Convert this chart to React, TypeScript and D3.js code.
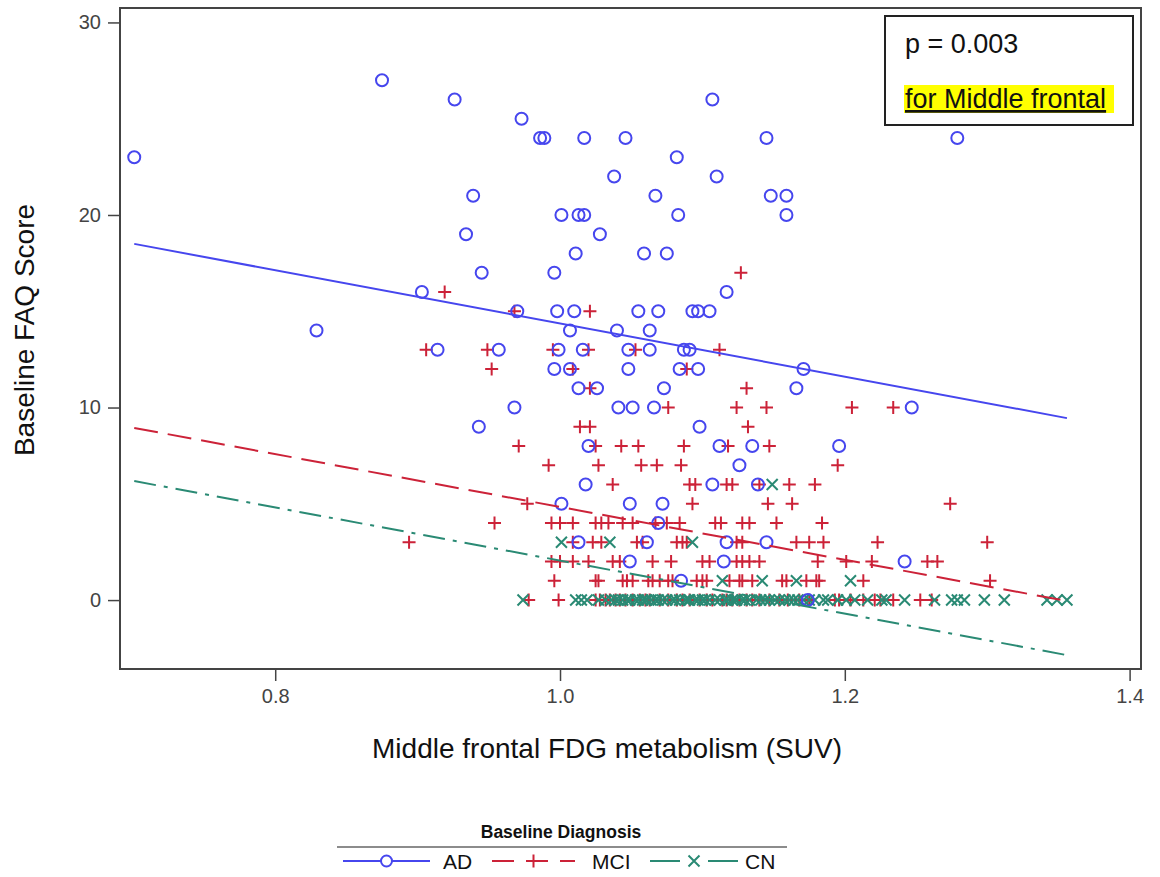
import React, { useEffect, useRef } from "react";
import * as d3 from "d3";

// Baseline FAQ score vs middle frontal FDG (SUV), by baseline diagnosis
const adX = [0.701, 0.829, 0.875, 0.903, 0.914, 0.926, 0.934, 0.939, 0.943, 0.945, 0.957, 0.968, 0.970, 0.973, 0.986, 0.989, 0.996, 0.996, 0.998, 0.999, 1.001, 1.001, 1.007, 1.007, 1.010, 1.011, 1.013, 1.013, 1.013, 1.016, 1.017, 1.017, 1.018, 1.020, 1.026, 1.028, 1.038, 1.040, 1.041, 1.046, 1.048, 1.048, 1.049, 1.049, 1.051, 1.055, 1.059, 1.061, 1.063, 1.063, 1.066, 1.067, 1.069, 1.069, 1.072, 1.073, 1.075, 1.082, 1.083, 1.084, 1.085, 1.087, 1.091, 1.093, 1.097, 1.097, 1.098, 1.105, 1.107, 1.107, 1.110, 1.112, 1.115, 1.117, 1.117, 1.126, 1.135, 1.139, 1.145, 1.145, 1.148, 1.159, 1.159, 1.166, 1.171, 1.174, 1.196, 1.242, 1.247, 1.279];
const adY = [23, 14, 27, 16, 13, 26, 19, 21, 9, 17, 13, 10, 15, 25, 24, 24, 17, 12, 15, 13, 20, 5, 14, 12, 15, 18, 20, 11, 3, 13, 20, 24, 6, 8, 11, 19, 22, 14, 10, 24, 13, 12, 5, 2, 10, 15, 18, 3, 14, 13, 10, 21, 15, 4, 5, 11, 18, 23, 20, 12, 1, 13, 13, 15, 15, 12, 9, 15, 26, 6, 22, 8, 2, 16, 3, 7, 8, 6, 24, 3, 21, 21, 20, 11, 12, 0, 8, 2, 10, 24];

const mciX = [1.127, 0.919, 0.968, 1.021, 0.906, 0.949, 0.995, 1.020, 1.053, 1.112, 0.952, 1.009, 1.089, 1.021, 1.131, 1.076, 1.124, 1.145, 1.205, 1.234, 1.014, 1.021, 1.132, 0.971, 1.025, 1.043, 1.055, 1.087, 1.118, 1.147, 0.992, 1.027, 1.057, 1.068, 1.085, 1.195, 1.037, 1.091, 1.095, 1.117, 1.121, 1.140, 1.161, 1.179,
  0.977, 1.093, 1.146, 1.163, 1.274,
  0.954, 0.994, 1.000, 1.009, 1.025, 1.029, 1.034, 1.044, 1.051, 1.067, 1.075, 1.084, 1.109, 1.113, 1.128, 1.133, 1.152, 1.184,
  0.894, 1.009, 1.023, 1.029, 1.054, 1.058, 1.082, 1.086, 1.089, 1.124, 1.128, 1.166, 1.175, 1.185, 1.223, 1.300,
  0.994, 1.000, 1.009, 1.020, 1.037, 1.042, 1.065, 1.078, 1.100, 1.105, 1.124, 1.128, 1.133, 1.140, 1.181, 1.201, 1.219, 1.258, 1.265,
  0.996, 1.025, 1.027, 1.044, 1.047, 1.051, 1.062, 1.065, 1.070, 1.076, 1.079, 1.096, 1.100, 1.103, 1.119, 1.126, 1.128, 1.135, 1.156, 1.159, 1.173, 1.180, 1.182, 1.213, 1.302,
  0.978, 0.999, 1.025, 1.028, 1.032, 1.035, 1.039, 1.042, 1.046, 1.051, 1.056, 1.060, 1.063, 1.070, 1.076, 1.082, 1.086, 1.091, 1.098, 1.103, 1.107, 1.114, 1.117, 1.121, 1.126, 1.131, 1.135, 1.140, 1.147, 1.154, 1.160, 1.168, 1.175, 1.193, 1.196, 1.204, 1.213, 1.221, 1.225, 1.234, 1.253, 1.261];
const mciY = [17, 16, 15, 15, 13, 13, 13, 13, 13, 13, 12, 12, 12, 11, 11, 10, 10, 10, 10, 10, 9, 9, 9, 8, 8, 8, 8, 8, 8, 8, 7, 7, 7, 7, 7, 7, 6, 6, 6, 6, 6, 6, 6, 6,
  5, 5, 5, 5, 5,
  4, 4, 4, 4, 4, 4, 4, 4, 4, 4, 4, 4, 4, 4, 4, 4, 4, 4,
  3, 3, 3, 3, 3, 3, 3, 3, 3, 3, 3, 3, 3, 3, 3, 3,
  2, 2, 2, 2, 2, 2, 2, 2, 2, 2, 2, 2, 2, 2, 2, 2, 2, 2, 2,
  1, 1, 1, 1, 1, 1, 1, 1, 1, 1, 1, 1, 1, 1, 1, 1, 1, 1, 1, 1, 1, 1, 1, 1, 1,
  0, 0, 0, 0, 0, 0, 0, 0, 0, 0, 0, 0, 0, 0, 0, 0, 0, 0, 0, 0, 0, 0, 0, 0, 0, 0, 0, 0, 0, 0, 0, 0, 0, 0, 0, 0, 0, 0, 0, 0, 0, 0];

const cnX = [1.149, 1.001, 1.035, 1.093, 1.114, 1.142, 1.166, 1.204,
  0.974, 1.011, 1.015, 1.019, 1.027, 1.032, 1.036, 1.039, 1.041, 1.044, 1.047, 1.049, 1.053, 1.055, 1.058, 1.060, 1.061, 1.064, 1.067, 1.069, 1.072, 1.075, 1.079, 1.081, 1.084, 1.088, 1.090, 1.091, 1.095, 1.097, 1.100, 1.102, 1.105, 1.109, 1.112, 1.116, 1.118, 1.121, 1.123, 1.124, 1.128, 1.130, 1.133, 1.138, 1.141, 1.144, 1.147, 1.151, 1.154, 1.158, 1.161, 1.164, 1.167, 1.171, 1.175, 1.179, 1.185, 1.188, 1.195, 1.201, 1.207, 1.216, 1.226, 1.229, 1.242, 1.263, 1.275, 1.279, 1.284, 1.298, 1.312, 1.342, 1.349, 1.356];
const cnY = [6, 3, 3, 3, 1, 1, 1, 1,
  0, 0, 0, 0, 0, 0, 0, 0, 0, 0, 0, 0, 0, 0, 0, 0, 0, 0, 0, 0, 0, 0, 0, 0, 0, 0, 0, 0, 0, 0, 0, 0, 0, 0, 0, 0, 0, 0, 0, 0, 0, 0, 0, 0, 0, 0, 0, 0, 0, 0, 0, 0, 0, 0, 0, 0, 0, 0, 0, 0, 0, 0, 0, 0, 0, 0, 0, 0, 0, 0, 0, 0, 0, 0];

// fitted lines (end points)
const adFit = [[0.701, 18.5], [1.356, 9.45]];
const mciFit = [[0.701, 8.94], [1.356, -0.05]];
const cnFit = [[0.701, 6.18], [1.356, -2.86]];

const xTicks = [0.8, 1.0, 1.2, 1.4];
const yTicks = [0, 10, 20, 30];
const groups = ["AD", "MCI", "CN"];

const FONT = "'Liberation Sans', Arial, sans-serif";
const colors = { AD: "#4646ee", MCI: "#cc2238", CN: "#2a8a74" };

const App = () => {
  const svgRef = useRef();

  useEffect(() => {
    const width = 1160, height = 877;
    const margin = { top: 8, right: 19, bottom: 208, left: 120 };

    const svg = d3.select(svgRef.current)
      .attr("width", width)
      .attr("height", height);
    svg.selectAll("*").remove();

    const x = d3.scaleLinear().domain([0.691, 1.408]).range([margin.left, width - margin.right]);
    const y = d3.scaleLinear().domain([-3.58, 30.75]).range([height - margin.bottom, margin.top]);

    const plot = svg.append("g");

    // markers
    const circle = (g, xs, ys, c) => g.selectAll(null).data(xs).enter().append("circle")
      .attr("cx", d => x(d)).attr("cy", (d, i) => y(ys[i])).attr("r", 6)
      .attr("fill", "none").attr("stroke", c).attr("stroke-width", 2);
    const shape = (g, xs, ys, c, p) => g.selectAll(null).data(xs).enter().append("path")
      .attr("transform", (d, i) => `translate(${x(d)},${y(ys[i])})`)
      .attr("d", p).attr("fill", "none").attr("stroke", c).attr("stroke-width", 2);

    shape(plot.append("g"), mciX, mciY, colors.MCI, "M-6.5,0H6.5M0,-6.5V6.5");
    shape(plot.append("g"), cnX, cnY, colors.CN, "M-5.5,-5.5L5.5,5.5M-5.5,5.5L5.5,-5.5");
    circle(plot.append("g"), adX, adY, colors.AD);

    // fit lines
    const line = d3.line().x(d => x(d[0])).y(d => y(d[1]));
    plot.append("path").attr("d", line(adFit)).attr("stroke", colors.AD).attr("stroke-width", 2).attr("fill", "none");
    plot.append("path").attr("d", line(mciFit)).attr("stroke", colors.MCI).attr("stroke-width", 2).attr("fill", "none")
      .attr("stroke-dasharray", "24,10");
    plot.append("path").attr("d", line(cnFit)).attr("stroke", colors.CN).attr("stroke-width", 2).attr("fill", "none")
      .attr("stroke-dasharray", "22,8,4,8");

    // frame + axes
    svg.append("rect")
      .attr("x", margin.left).attr("y", margin.top)
      .attr("width", width - margin.left - margin.right)
      .attr("height", height - margin.top - margin.bottom)
      .attr("fill", "none").attr("stroke", "#444").attr("stroke-width", 2);

    const xAxis = svg.append("g")
      .attr("transform", `translate(0, ${height - margin.bottom})`)
      .call(d3.axisBottom(x).tickValues(xTicks).tickFormat(d3.format(".1f")).tickSize(12).tickPadding(8));
    const yAxis = svg.append("g")
      .attr("transform", `translate(${margin.left}, 0)`)
      .call(d3.axisLeft(y).tickValues(yTicks).tickSize(12).tickPadding(7));
    [xAxis, yAxis].forEach(a => {
      a.select(".domain").remove();
      a.selectAll("line").attr("stroke", "#444").attr("stroke-width", 1.5);
      a.selectAll("text").attr("fill", "#444").style("font-family", FONT).style("font-size", "20px");
    });

    svg.append("text")
      .attr("x", 607).attr("y", 758)
      .attr("text-anchor", "middle")
      .style("font-family", FONT).style("font-size", "28px").attr("fill", "#111")
      .text("Middle frontal FDG metabolism (SUV)");
    svg.append("text")
      .attr("transform", "translate(34, 330) rotate(-90)")
      .attr("text-anchor", "middle")
      .style("font-family", FONT).style("font-size", "28px").attr("fill", "#111")
      .text("Baseline FAQ Score");

    // p-value box
    const box = svg.append("g");
    box.append("rect").attr("x", 885).attr("y", 16).attr("width", 248).attr("height", 109)
      .attr("fill", "white").attr("stroke", "#222").attr("stroke-width", 2);
    box.append("text").attr("x", 905).attr("y", 53)
      .style("font-family", FONT).style("font-size", "27px").attr("fill", "#111")
      .text("p = 0.003");
    box.append("rect").attr("x", 904).attr("y", 85).attr("width", 210).attr("height", 28).attr("fill", "#ffff00");
    box.append("text").attr("x", 905).attr("y", 108)
      .style("font-family", FONT).style("font-size", "27px").attr("fill", "#111")
      .attr("text-decoration", "underline")
      .text("for Middle frontal");

    // legend
    const leg = svg.append("g");
    leg.append("text").attr("x", 561).attr("y", 838).attr("text-anchor", "middle")
      .style("font-family", FONT).style("font-size", "17.5px").style("font-weight", "bold").attr("fill", "#111")
      .text("Baseline Diagnosis");
    leg.append("line").attr("x1", 337).attr("x2", 787).attr("y1", 847).attr("y2", 847)
      .attr("stroke", "#666").attr("stroke-width", 1.5);

    const items = [
      { key: "AD", x0: 343, x1: 430, tx: 443, dash: null },
      { key: "MCI", x0: 492, x1: 575, tx: 592, dash: "22,12" },
      { key: "CN", x0: 650, x1: 738, tx: 745, dash: "30,28" }
    ];
    const ly = 861;
    items.forEach((it, i) => {
      const c = colors[groups[i]];
      leg.append("line").attr("x1", it.x0).attr("x2", it.x1).attr("y1", ly).attr("y2", ly)
        .attr("stroke", c).attr("stroke-width", 2.2)
        .attr("stroke-dasharray", it.dash);
      const mx = (it.x0 + it.x1) / 2;
      if (it.key === "AD") {
        leg.append("circle").attr("cx", mx).attr("cy", ly).attr("r", 5.5)
          .attr("fill", "white").attr("stroke", c).attr("stroke-width", 2);
      } else {
        leg.append("path").attr("transform", `translate(${mx},${ly})`)
          .attr("d", it.key === "MCI" ? "M-6.5,0H6.5M0,-6.5V6.5" : "M-5.5,-5.5L5.5,5.5M-5.5,5.5L5.5,-5.5")
          .attr("stroke", c).attr("stroke-width", 2).attr("fill", "none");
      }
      leg.append("text").attr("x", it.tx).attr("y", ly + 8)
        .style("font-family", FONT).style("font-size", "21px").attr("fill", "#111")
        .text(it.key);
    });
  }, []);

  return <svg ref={svgRef} style={{ position: "absolute", left: 0, top: 0 }}></svg>;
};

export default App;
